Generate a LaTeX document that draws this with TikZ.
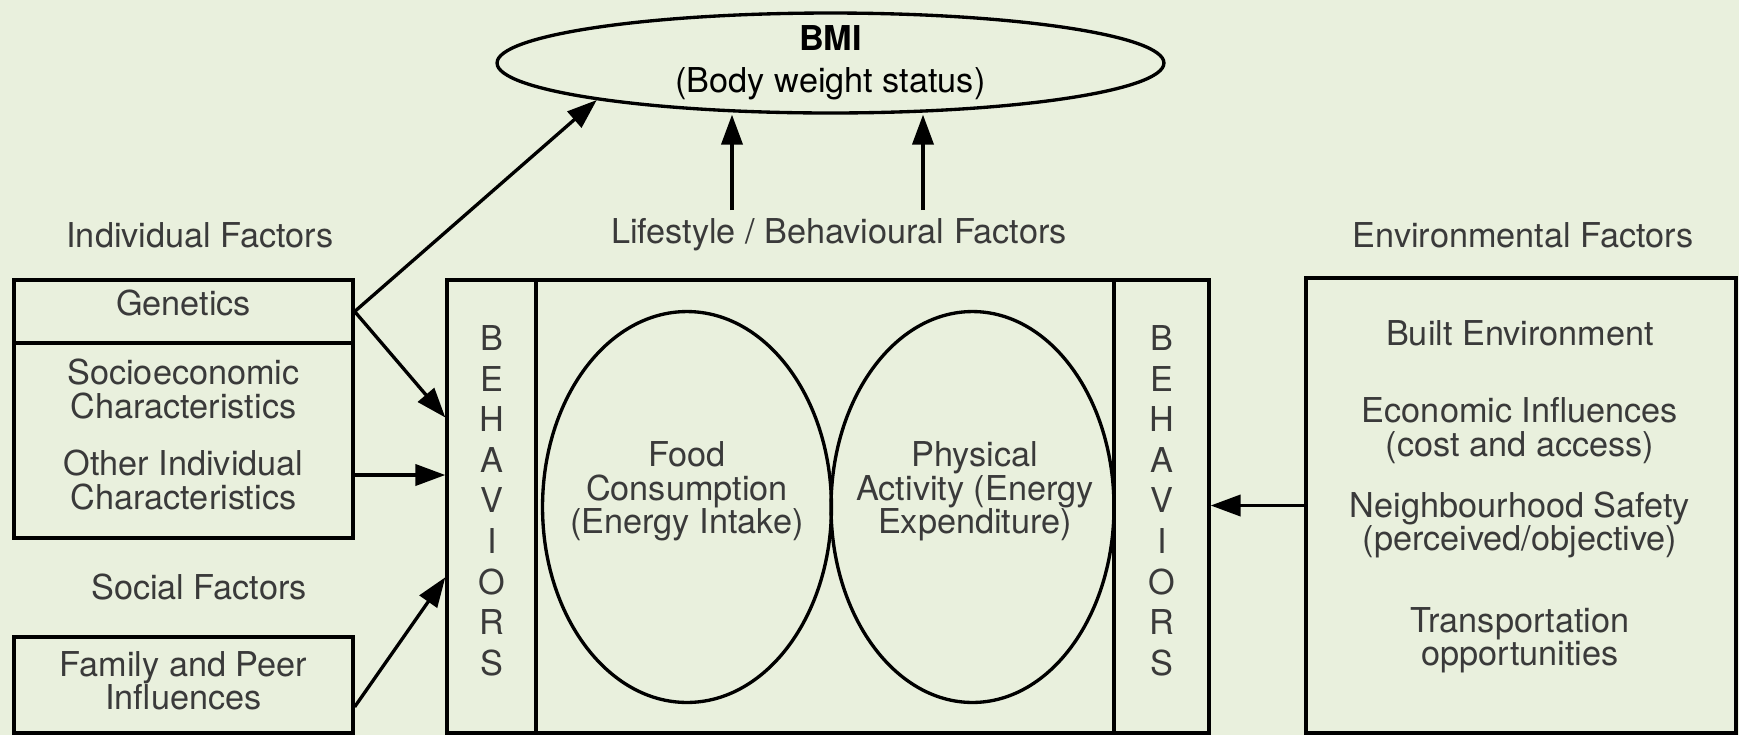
\documentclass[tikz,border=0pt]{standalone}
\usepackage{fontspec}
\setmainfont{TeX Gyre Heros}
\usetikzlibrary{arrows.meta,shapes.geometric,fit,calc}
\definecolor{bgcol}{HTML}{E9F0DD}
\definecolor{txtcol}{HTML}{3A3A3A}
\tikzset{
  box/.style={draw, line width=1.9pt, inner sep=0pt},
  oval/.style={draw, ellipse, line width=1.9pt, inner sep=0pt},
  lbl/.style={text=txtcol, font=\fontsize{19.5}{19}\selectfont, align=center, inner sep=0pt},
  arr/.style={line width=1.9pt, -{Triangle[length=17pt,width=12pt]}},
}
\begin{document}
\begin{tikzpicture}[x=0.02cm, y=-0.02cm]
            \fill[bgcol] (0,0) rectangle (1739,735);
            \useasboundingbox (0,0) rectangle (1739,735);
            % top
            \node[oval, minimum width=13.34cm, minimum height=2cm] (bmi) at (830.5,63) {};
            \node[lbl, text=black, font=\fontsize{19.5}{24}\selectfont] (bmit) at (830.5,63) {\textbf{BMI}\\(Body weight status)};
            % headings
            \node[lbl] (indf) at (200,235) {Individual Factors};
            \node[lbl] (lsf) at (839,235) {Lifestyle / Behavioural Factors};
            \node[lbl] (envf) at (1523,235) {Environmental Factors};
            \node[lbl] (socf) at (199,587) {Social Factors};
            % left boxes
            \node[box, fit={(14,280) (353,538)}] (indiv) {};
            \node[box, fit={(14,280) (353,343)}] (gen) {};
            \node[box, fit={(14,637) (353,733)}] (fam) {};
            \node[lbl] (gent) at (183.5,303) {Genetics};
            \node[lbl] (soct) at (183.5,389) {Socioeconomic\\Characteristics};
            \node[lbl] (otht) at (183.5,480) {Other Individual\\Characteristics};
            \node[lbl] (famt) at (183.5,681) {Family and Peer\\Influences};
            % middle box
            \node[box, fit={(447,280) (536,733)}] (behl) {};
            \node[box, fit={(536,280) (1114,733)}] (mid) {};
            \node[box, fit={(1114,280) (1209,733)}] (behr) {};
            \foreach \l [count=\i from 0] in {B,E,H,A,V,I,O,R,S} {
              \node[lbl] (bl\i) at (492,338+40.6*\i) {\l};
              \node[lbl] (br\i) at (1162,338+40.6*\i) {\l};
            }
            \node[oval, minimum width=5.78cm, minimum height=7.82cm] (food) at (687,507) {};
            \node[oval, minimum width=5.66cm, minimum height=7.82cm] (phys) at (972.5,507) {};
            \node[lbl] (foodt) at (687,491.5) {Food\\Consumption\\(Energy Intake)};
            \node[lbl] (physt) at (975,491.5) {Physical\\Activity (Energy\\Expenditure)};
            % right box
            \node[box, fit={(1306,278) (1736,733)}] (env) {};
            \node[lbl] (built) at (1520,333) {Built Environment};
            \node[lbl] (econt) at (1520,430.5) {Economic Influences\\(cost and access)};
            \node[lbl] (neigt) at (1520,525) {Neighbourhood Safety\\(perceived/objective)};
            \node[lbl] (trant) at (1520,640.5) {Transportation\\opportunities};
            % arrows
            \coordinate (up1) at (732,210);
            \coordinate (up2) at (923,210);
            \draw[arr] (up1) -- (up1 |- bmi.south);
            \draw[arr] (up2) -- (up2 |- bmi.south);
            \draw[arr] (gen.east) -- (bmi.189);
            \draw[arr] (gen.east) -- ($(behl.north west)!0.305!(behl.south west)$);
            \draw[arr] (indiv.east |- 0,475) -- (behl.west |- 0,475);
            \draw[arr] ($(fam.north east)!0.72!(fam.south east)$) -- ($(behl.north west)!0.655!(behl.south west)$);
            \draw[arr] (env.west) -- (behr.east |- env.west);
        \end{tikzpicture}
\end{document}
